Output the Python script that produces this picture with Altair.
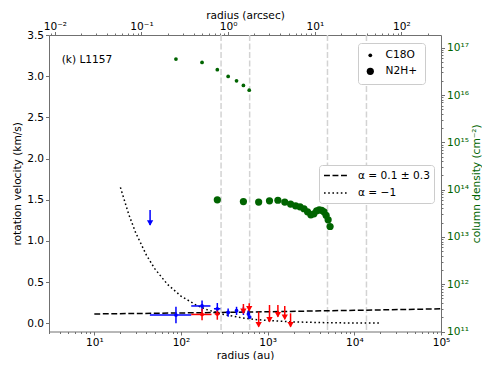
import altair as alt
import pandas as pd

# ---------------- data ----------------
AU_PER_ARCSEC = 350.0

# column density profiles (right axis)
c18o_r = [87.5, 175, 262.5, 350, 437.5, 525, 612.5]
c18o_N = [5.77e16, 4.89e16, 3.43e16, 2.47e16, 2.0e16, 1.6e16, 1.27e16]

n2h_r = [262.5, 525, 787.5, 1050, 1312.5, 1575, 1837.5, 2100, 2362.5, 2625,
         2887.5, 3150, 3412.5, 3675, 3937.5, 4200, 4462.5, 4725, 4987.5, 5250]
n2h_N = [6.1e13, 5.6e13, 5.45e13, 5.8e13, 5.96e13, 5.45e13, 4.94e13, 4.55e13, 4.34e13, 3.94e13,
         3.40e13, 2.94e13, 3.08e13, 3.56e13, 3.75e13, 3.66e13, 3.40e13, 2.86e13, 2.30e13, 1.66e13]

# blue (blueshifted) rotation velocity measurements
blue_r = [87.5, 175, 262.5, 350, 437.5, 525, 600, 620]
blue_v = [0.10, 0.21, 0.176, 0.131, 0.153, 0.149, 0.113, 0.076]
blue_rlo = [43.75, 131.25, 240, 335, 420, 505, 585, 615]
blue_rhi = [131.25, 218.75, 285, 365, 455, 545, 615, 625]
blue_vlo = [0.0, 0.143, 0.106, 0.08, 0.10, 0.10, 0.07, 0.06]
blue_vhi = [0.2, 0.277, 0.246, 0.18, 0.20, 0.20, 0.16, 0.09]

# red (redshifted) rotation velocity measurements
red_r = [175, 262.5]
red_v = [0.107, 0.113]
red_rlo = [131.25, 245]
red_rhi = [225, 280]
red_vlo = [0.037, 0.043]
red_vhi = [0.177, 0.183]

# upper limits (arrows): radius, top value, arrow tip
red_ul_r = [525, 612.5, 787.5, 1050, 1312.5, 1575, 1837.5]
red_ul_top = [0.234, 0.243, 0.141, 0.222, 0.222, 0.21, 0.121]
red_ul_tip = [0.121, 0.153, -0.041, 0.019, 0.080, 0.049, -0.041]
blue_ul_r = [44]
blue_ul_top = [1.375]
blue_ul_tip = [1.193]

# model curves
fit_r = [10, 100, 1000, 10000, 100000]
fit_v = [0.113, 0.125, 0.14, 0.157, 0.175]
kep_r = [20, 25, 30, 40, 50, 70, 100, 150, 200, 300, 500, 700, 1000, 2000, 5000, 10000, 20000]
kep_v = [1.65, 1.32, 1.1, 0.825, 0.66, 0.471, 0.33, 0.22, 0.165, 0.11, 0.066, 0.047, 0.033,
         0.0165, 0.0066, 0.0033, 0.00165]

# vertical reference radii (au)
vline_r = [290, 620, 4900, 13800]

panel_label = "(k) L1157"
tracers = ["C18O", "N2H+"]
models_names = ["\u03b1 = 0.1 \u00b1 0.3", "\u03b1 = \u22121"]

# ---------------- helpers ----------------
X_DOM = [3, 1e5]
Y_DOM = [-0.1, 3.5]
N_DOM = [1e11, 10 ** 17.27]
A_DOM = [X_DOM[0] / AU_PER_ARCSEC, X_DOM[1] / AU_PER_ARCSEC]

GREEN = "#006400"
AX = "#707070"
FS = 10.6


def log_ticks(lo, hi):
    vals = []
    for e in range(-4, 19):
        for k in range(1, 10):
            v = float(f"{k}e{e}")
            if lo * 0.9999 <= v <= hi * 1.0001:
                vals.append(v)
    return vals


LOGE = "log(datum.value)/LN10"
MAJOR = f"abs({LOGE} - round({LOGE})) < 1e-6"
SUP = "['\u2070','\u00b9','\u00b2','\u00b3','\u2074','\u2075','\u2076','\u2077','\u2078','\u2079']"
EXP = f"round({LOGE})"
LABEL = (f"({MAJOR}) ? ('10' + ({EXP} < 0 ? '\u207b' : '') + "
         f"(abs({EXP}) >= 10 ? {SUP}[floor(abs({EXP})/10)] : '') + "
         f"{SUP}[abs({EXP}) % 10]) : ''")


def log_axis(orient, title, lo, hi, color="black", title_color="black", **kw):
    return alt.Axis(
        orient=orient, title=title, values=log_ticks(lo, hi), labelExpr=LABEL,
        tickSize={"condition": {"test": MAJOR, "value": 3.5}, "value": 2},
        grid=False, domainColor=AX, tickColor=AX, labelColor=color, titleColor=title_color,
        labelFontSize=FS, titleFontSize=FS, titleFontWeight="normal", labelFlush=False,
        labelOverlap=False, **kw)


x_axis = log_axis("bottom", "radius (au)", *X_DOM, labelPadding=2, titlePadding=3)
y_axis = alt.Axis(orient="left", title="rotation velocity (km/s)", values=[0, 0.5, 1, 1.5, 2, 2.5, 3, 3.5],
                  format=".1f", grid=False, domainColor=AX, tickColor=AX, tickSize=3.5,
                  labelFontSize=FS, titleFontSize=FS, titleFontWeight="normal", labelPadding=2,
                  titlePadding=4)

xs = alt.Scale(type="log", domain=X_DOM)
ys = alt.Scale(domain=Y_DOM, nice=False, zero=False)
X = lambda f="r": alt.X(f"{f}:Q", scale=xs, axis=x_axis)
Y = lambda f="v": alt.Y(f"{f}:Q", scale=ys, axis=y_axis)

# ---------------- velocity layer ----------------
vl = pd.DataFrame({"r": vline_r})
rules = alt.Chart(vl).mark_rule(color="#d3d3d3", strokeWidth=1.5, strokeDash=[5.9, 2.6]).encode(x=X())

models = pd.concat([
    pd.DataFrame({"r": fit_r, "v": fit_v, "model": models_names[0]}),
    pd.DataFrame({"r": kep_r, "v": kep_v, "model": models_names[1]}),
])
lines = alt.Chart(models).mark_line(color="black", strokeWidth=1.5, clip=True).encode(
    x=X(), y=Y(),
    strokeDash=alt.StrokeDash("model:N", scale=alt.Scale(
        domain=models_names, range=[[5.9, 2.6], [1.6, 2.6]]),
        legend=alt.Legend(title=None, orient="none", legendX=270, legendY=130,
                          symbolType="M-2,0H2", symbolSize=132, symbolOffset=6,
                          symbolStrokeColor="black", symbolStrokeWidth=1.5,
                          labelFontSize=FS, labelFont="DejaVu Sans", fillColor="white",
                          strokeColor="#cccccc", cornerRadius=3, padding=4, rowPadding=4.5,
                          labelOffset=16)),
)

meas = pd.concat([
    pd.DataFrame({"r": blue_r, "v": blue_v, "rlo": blue_rlo, "rhi": blue_rhi,
                  "vlo": blue_vlo, "vhi": blue_vhi, "side": "blue"}),
    pd.DataFrame({"r": red_r, "v": red_v, "rlo": red_rlo, "rhi": red_rhi,
                  "vlo": red_vlo, "vhi": red_vhi, "side": "red"}),
])
col = alt.Color("side:N", scale=alt.Scale(domain=["blue", "red"], range=["#0000ff", "#ff0000"]), legend=None)
hbar = alt.Chart(meas).mark_rule(strokeWidth=1.5).encode(x=X("rlo"), x2="rhi:Q", y=Y(), color=col)
vbar = alt.Chart(meas).mark_rule(strokeWidth=1.5).encode(x=X(), y=Y("vlo"), y2="vhi:Q", color=col)
dots = alt.Chart(meas).mark_circle(size=14, opacity=1).encode(x=X(), y=Y(), color=col)

ul = pd.concat([
    pd.DataFrame({"r": red_ul_r, "top": red_ul_top, "v": red_ul_tip, "side": "red"}),
    pd.DataFrame({"r": blue_ul_r, "top": blue_ul_top, "v": blue_ul_tip, "side": "blue"}),
])
ul_line = alt.Chart(ul).mark_rule(strokeWidth=1.5).encode(x=X(), y=Y("top"), y2="v:Q", color=col)
ul_head = alt.Chart(ul).mark_point(shape="triangle-down", filled=True, size=40, opacity=1, yOffset=-2).encode(
    x=X(), y=Y(), color=col)

lab = pd.DataFrame({"r": [4.2], "v": [3.2], "t": [panel_label]})
label = alt.Chart(lab).mark_text(align="left", baseline="middle", fontSize=FS, font="DejaVu Sans").encode(
    x=X(), y=Y(), text="t:N")

vel = alt.layer(rules, lines, hbar, vbar, dots, ul_line, ul_head, label)

# ---------------- column density layer ----------------
dens = pd.concat([
    pd.DataFrame({"r": c18o_r, "N": c18o_N, "tracer": tracers[0]}),
    pd.DataFrame({"r": n2h_r, "N": n2h_N, "tracer": tracers[1]}),
])
right_axis = log_axis("right", "column density (cm\u207b\u00b2)", *N_DOM, color=GREEN, title_color=GREEN,
                      labelPadding=2, titlePadding=3, titleAngle=270, titleBaseline="top")
dens_chart = alt.Chart(dens).transform_calculate(ck="'green'").mark_circle(opacity=1).encode(
    x=alt.X("r:Q", scale=alt.Scale(type="log", domain=X_DOM), axis=None),
    y=alt.Y("N:Q", scale=alt.Scale(type="log", domain=N_DOM, nice=False), axis=right_axis),
    color=alt.Color("ck:N", scale=alt.Scale(domain=["green"], range=[GREEN]), legend=None),
    size=alt.Size("tracer:N", scale=alt.Scale(domain=tracers, range=[14, 52]),
                  legend=alt.Legend(title=None, orient="none", legendX=309, legendY=8,
                                    symbolType="circle", symbolFillColor="black",
                                    symbolStrokeColor="black", symbolStrokeWidth=0,
                                    labelFontSize=FS, labelFont="DejaVu Sans",
                                    fillColor="white", strokeColor="#cccccc", cornerRadius=3,
                                    padding=7, rowPadding=5, labelOffset=10)),
)

# ---------------- top (arcsec) axis ----------------
top = pd.DataFrame({"a": A_DOM})
top_axis = log_axis("top", "radius (arcsec)", *A_DOM, labelPadding=0, titlePadding=1)
top_chart = alt.Chart(top).mark_point(opacity=0).encode(
    x=alt.X("a:Q", scale=alt.Scale(type="log", domain=A_DOM), axis=top_axis),
    y=alt.value(0),
)

chart = alt.layer(vel, dens_chart, top_chart).resolve_scale(
    x="independent", y="independent", size="independent", strokeDash="independent",
    color="independent"
).properties(
    width=392, height=296.5,
    autosize=alt.AutoSizeParams(type="none"),
    padding={"left": 41, "top": 27, "right": 41, "bottom": 28.5},
).configure(font="DejaVu Sans").configure_view(stroke=None)

chart.save("out.html", embed_options={"renderer": "svg", "actions": False})
